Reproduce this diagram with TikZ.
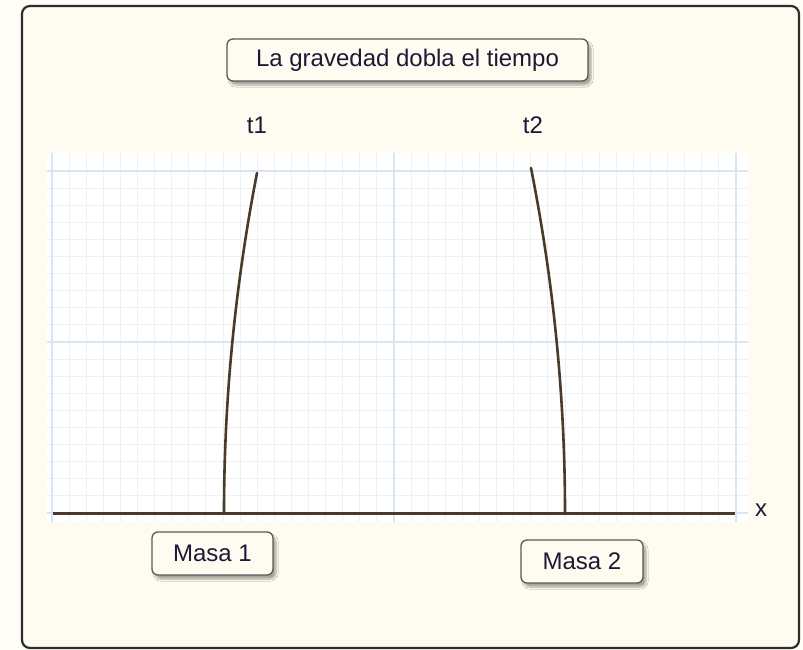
\documentclass[tikz,border=0pt]{standalone}
\usepackage{fontspec}
\setmainfont{Liberation Sans}
\usetikzlibrary{shadows.blur}
\definecolor{cream}{HTML}{FEFCF0}
\definecolor{pagebg}{HTML}{FEFDF6}
\definecolor{gridminor}{HTML}{EAF1FA}
\definecolor{gridmajor}{HTML}{D8E5F5}
\definecolor{brownline}{HTML}{4A3A28}
\definecolor{txt}{HTML}{1E1836}
\begin{document}
\begin{tikzpicture}[x=1pt,y=-1pt,
  font=\fontsize{24}{28}\selectfont,
  box/.style={draw=black!65, line width=1.3pt, rounded corners=6pt, fill=cream,
    text=txt, inner sep=0pt,
    blur shadow={shadow xshift=3pt, shadow yshift=-4pt, shadow blur steps=6, shadow opacity=35}},
  lbl/.style={text=txt, inner sep=0pt},
  curve/.style={draw=brownline, line width=2.6pt, line cap=round},
  minorline/.style={draw=gridminor, line width=0.9pt},
  majorline/.style={draw=gridmajor, line width=1.1pt}]
\useasboundingbox (0,0) rectangle (803,650);
\fill[pagebg] (0,0) rectangle (803,650);
% outer frame
\draw[fill=cream, draw=black!82, line width=2.2pt, rounded corners=8pt] (22,6) rectangle (799,648);
% grid paper
\fill[white] (47,153) rectangle (748,522);
\foreach \i in {0,...,40} \draw[minorline] ({52+17.1*\i},153) -- ({52+17.1*\i},522);
\foreach \j in {0,...,20} \draw[minorline] (47,{171+17.1*\j}) -- (748,{171+17.1*\j});
\foreach \i in {0,20,40} \draw[majorline] ({52+17.1*\i},153) -- ({52+17.1*\i},522);
\foreach \j in {0,10,20} \draw[majorline] (47,{171+17.1*\j}) -- (748,{171+17.1*\j});
% axis
\coordinate (axL) at (53,513);
\coordinate (axR) at (735,513);
\draw[brownline, line width=3pt] (axL) -- (axR);
\node[lbl] (xlabel) at (761,510) {x};
% curves (parabolic arcs as cubic Beziers)
\coordinate (c1b) at (224,513);
\coordinate (c1p) at (224,399.7);
\coordinate (c1q) at (235,286.3);
\coordinate (c1t) at (257,173);
\coordinate (c2b) at (565,513);
\coordinate (c2p) at (565,397.7);
\coordinate (c2q) at (553.7,282.7);
\coordinate (c2t) at (531,168);
\draw[curve] (c1b) .. controls (c1p) and (c1q) .. (c1t);
\draw[curve] (c2b) .. controls (c2p) and (c2q) .. (c2t);
\node[lbl] (t1) at (257,125) {t1};
\node[lbl] (t2) at (533,125) {t2};
% boxes
\node[box, minimum width=361pt, minimum height=42pt] (title) at (407.5,60) {La gravedad dobla el tiempo};
\node[box, minimum width=121pt, minimum height=43pt] (masa1) at (212.5,553.5) {Masa 1};
\node[box, minimum width=122pt, minimum height=43pt] (masa2) at (582,561.5) {Masa 2};
\end{tikzpicture}
\end{document}
